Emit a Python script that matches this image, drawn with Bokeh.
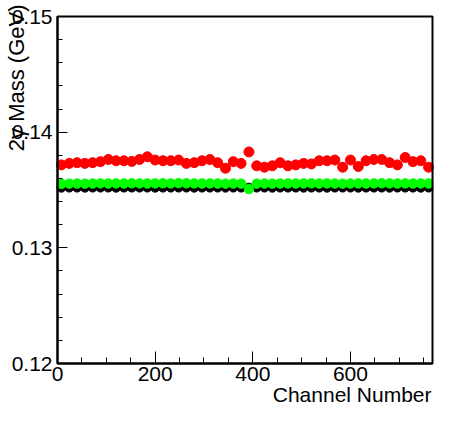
import math
from bokeh.plotting import figure
from bokeh.models import Range1d, FixedTicker, Label, BoxAnnotation
from bokeh.embed import file_html
from bokeh.resources import INLINE

channel = [8, 24, 40, 56, 72, 88, 104, 120,
           136, 152, 168, 184, 200, 216, 232, 248,
           264, 280, 296, 312, 328, 344, 360, 376,
           392, 408, 424, 440, 456, 472, 488, 504,
           520, 536, 552, 568, 584, 600, 616, 632,
           648, 664, 680, 696, 712, 728, 744, 760]

mass_black = [0.13520, 0.13521, 0.13521, 0.13520, 0.13521, 0.13521, 0.13521, 0.13520,
              0.13521, 0.13521, 0.13521, 0.13521, 0.13520, 0.13521, 0.13521, 0.13521,
              0.13521, 0.13520, 0.13521, 0.13521, 0.13521, 0.13520, 0.13521, 0.13521,
              0.13520, 0.13521, 0.13521, 0.13520, 0.13521, 0.13521, 0.13521, 0.13520,
              0.13521, 0.13521, 0.13520, 0.13521, 0.13521, 0.13521, 0.13520, 0.13521,
              0.13521, 0.13521, 0.13520, 0.13521, 0.13521, 0.13521, 0.13520, 0.13521]

mass_green = [0.13553, 0.13555, 0.13556, 0.13555, 0.13556, 0.13557, 0.13556, 0.13557,
              0.13556, 0.13558, 0.13557, 0.13556, 0.13557, 0.13558, 0.13557, 0.13559,
              0.13558, 0.13557, 0.13556, 0.13557, 0.13556, 0.13555, 0.13556, 0.13555,
              0.13508, 0.13555, 0.13556, 0.13555, 0.13556, 0.13557, 0.13556, 0.13557,
              0.13558, 0.13556, 0.13557, 0.13556, 0.13555, 0.13556, 0.13557, 0.13556,
              0.13557, 0.13558, 0.13557, 0.13556, 0.13557, 0.13556, 0.13557, 0.13556]

mass_red = [0.13717, 0.13730, 0.13736, 0.13730, 0.13736, 0.13745, 0.13764, 0.13753,
            0.13753, 0.13747, 0.13764, 0.13787, 0.13759, 0.13753, 0.13753, 0.13759,
            0.13730, 0.13736, 0.13753, 0.13764, 0.13736, 0.13688, 0.13745, 0.13730,
            0.13829, 0.13709, 0.13697, 0.13709, 0.13736, 0.13709, 0.13717, 0.13730,
            0.13725, 0.13753, 0.13753, 0.13759, 0.13697, 0.13759, 0.13703, 0.13753,
            0.13764, 0.13764, 0.13736, 0.13717, 0.13781, 0.13745, 0.13753, 0.13697]

x_lo, x_hi = 0, 768
y_lo, y_hi = 0.12, 0.15
x_ticks = [0, 200, 400, 600]
x_minor = [50, 100, 150, 250, 300, 350, 450, 500, 550, 650, 700, 750]
y_ticks = [0.12, 0.13, 0.14, 0.15]
y_minor = [0.122, 0.124, 0.126, 0.128, 0.132, 0.134, 0.136, 0.138,
           0.142, 0.144, 0.146, 0.148]
x_title = "Channel Number"
y_title = "2\u03b3 Mass (GeV)"

FONT = "Liberation Sans"
FS = "21px"

W, H = 434, 406
# pixel placement of the axes box inside the figure
BL, BR, BT, BB = 57, 432, 16, 363
sx = (BR - BL) / (x_hi - x_lo)
sy = (BB - BT) / (y_hi - y_lo)
xr = Range1d(x_lo - BL / sx, x_hi + (W - BR) / sx)
yr = Range1d(y_lo - (H - BB) / sy, y_hi + BT / sy)

p = figure(width=W, height=H, output_backend="svg", toolbar_location=None,
           x_range=xr, y_range=yr,
           min_border_left=0, min_border_right=0, min_border_top=0,
           min_border_bottom=0)
p.background_fill_color = "white"
p.border_fill_color = "white"
p.xgrid.visible = False
p.ygrid.visible = False
p.outline_line_color = None

p.add_layout(BoxAnnotation(left=x_lo, right=x_hi, bottom=y_lo, top=y_hi,
                           fill_alpha=0, line_color="black", line_alpha=1.0,
                           line_width=2))

p.xaxis.fixed_location = y_lo
p.yaxis.fixed_location = x_lo
p.xaxis.bounds = (x_lo, x_hi)
p.yaxis.bounds = (y_lo, y_hi)
p.xaxis.ticker = FixedTicker(ticks=x_ticks, minor_ticks=x_minor)
p.yaxis.ticker = FixedTicker(ticks=y_ticks, minor_ticks=y_minor)
for ax in (p.xaxis, p.yaxis):
    ax.axis_line_width = 2
    ax.axis_line_color = "black"
    ax.major_tick_out = 0
    ax.minor_tick_out = 0
    ax.major_tick_line_color = "black"
    ax.minor_tick_line_color = "black"
    ax.major_tick_line_width = 1
    ax.minor_tick_line_width = 1
    ax.major_label_text_font = FONT
    ax.major_label_text_font_size = FS
    ax.major_label_text_color = "black"
p.xaxis.major_tick_in = 12
p.xaxis.minor_tick_in = 6
p.yaxis.major_tick_in = 10
p.yaxis.minor_tick_in = 5
p.xaxis.major_label_standoff = 3
p.yaxis.major_label_standoff = 5

p.scatter(channel, mass_black, size=9, color="black")
p.scatter(channel, mass_green, size=9.5, color="#00ff00")
p.scatter(channel, mass_red, size=10, color="#ff0000")

p.add_layout(Label(x=x_hi - 1 / sx, y=y_lo - 19 / sy, text=x_title,
                   text_align="right", text_baseline="top",
                   text_font=FONT, text_font_size=FS, text_color="black"))
p.add_layout(Label(x=x_lo - 54 / sx, y=y_hi + 12 / sy, text=y_title,
                   angle=math.pi / 2, text_align="right",
                   text_baseline="top", text_font=FONT,
                   text_font_size="22px", text_color="black"))

open("out.html", "w").write(file_html(p, INLINE))
